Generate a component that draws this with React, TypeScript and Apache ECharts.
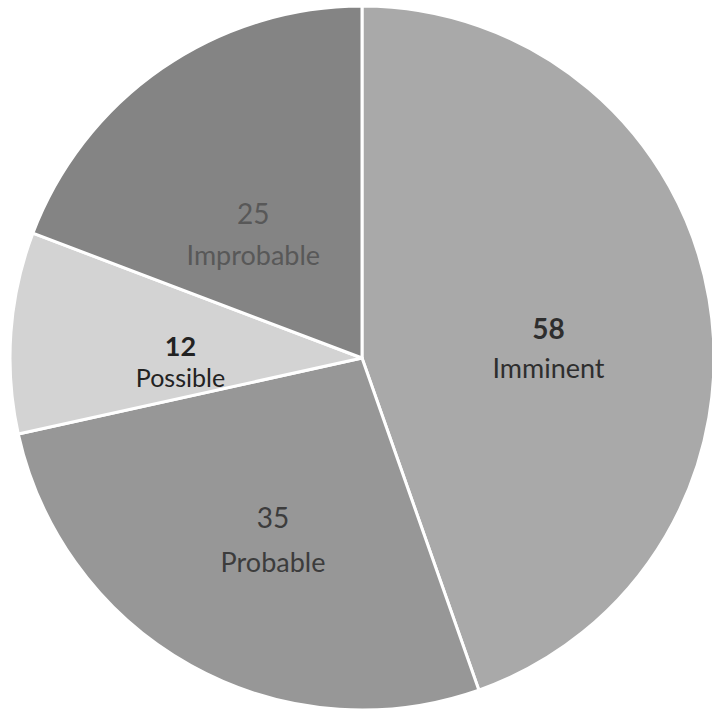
import React, { useEffect, useRef } from "react";
import * as echarts from "echarts";

const categories = ["Imminent", "Probable", "Possible", "Improbable"];
const values = [58, 35, 12, 25];
const sliceColors = ["#a9a9a9", "#979797", "#d3d3d3", "#848484"];
const labelColors = ["#2e2e2e", "#3c3c3c", "#222222", "#585858"];
const numberWeights = ["bold", "normal", "bold", "normal"];
const labelLineHeights = [40, 44, 31, 42];
const labelPaddings = [
  [40, 0, 0, 20],
  [50, 4, 0, 0],
  [32, 6, 0, 0],
  [46, 14, 0, 0],
];

export default function App() {
  const ref = useRef<HTMLDivElement>(null);
  useEffect(() => {
    document.body.style.margin = "0";
    const chart = echarts.init(ref.current!, null, { renderer: "svg" });
    const data = categories.map((name, i) => ({
      name,
      value: values[i],
      itemStyle: { color: sliceColors[i] },
      label: {
        formatter: "{v|{c}}\n{n|{b}}",
        padding: labelPaddings[i],
        rich: {
          v: {
            fontSize: i === 2 ? 27 : 28,
            fontWeight: numberWeights[i] as any,
            color: labelColors[i],
            fontFamily: "Lato",
            lineHeight: labelLineHeights[i],
          },
          n: {
            fontSize: i === 2 ? 25 : 27,
            color: labelColors[i],
            fontFamily: "Lato",
            lineHeight: labelLineHeights[i],
          },
        },
      },
    }));
    chart.setOption({
      animation: false,
      backgroundColor: "#ffffff",
      series: [
        {
          type: "pie",
          center: [362, 358],
          radius: 352,
          startAngle: 90,
          clockwise: true,
          itemStyle: { borderColor: "#ffffff", borderWidth: 3 },
          label: { show: true, position: "inside" },
          labelLine: { show: false },
          emphasis: { disabled: true },
          data,
        },
      ],
    });
    return () => chart.dispose();
  }, []);
  return (
    <div
      ref={ref}
      style={{ position: "absolute", left: 0, top: 0, width: 712, height: 714 }}
    />
  );
}
